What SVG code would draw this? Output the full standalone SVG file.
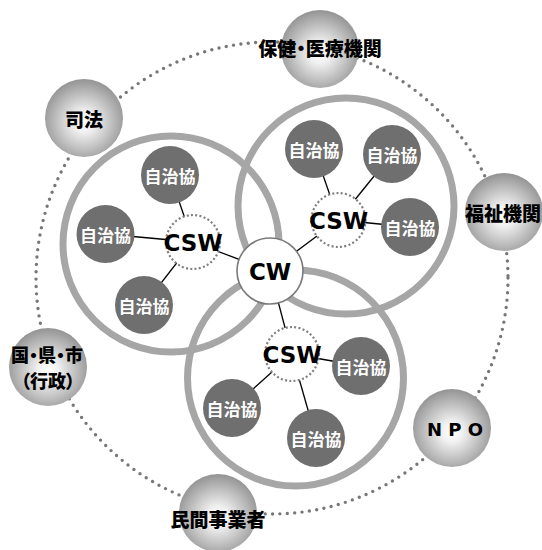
<svg xmlns="http://www.w3.org/2000/svg" width="542" height="550" viewBox="0 0 542 550">
<style>
.ring{fill:none;stroke:#a6a6a6;stroke-width:7}
.orbit{fill:none;stroke:#777;stroke-width:3.4;stroke-linecap:round;stroke-dasharray:0 7.4}
.sat{fill:url(#satg)}
.sat-t{font-family:"Noto Sans CJK JP","Noto Sans CJK SC",sans-serif;font-weight:900;font-size:19px;fill:#000;text-anchor:middle;dominant-baseline:central;font-feature-settings:"palt"}
.jc{fill:#6f6f6f}
.jc-t{font-family:"Noto Sans CJK JP",sans-serif;font-weight:700;font-size:17px;fill:#fff;text-anchor:middle;dominant-baseline:central}
.csw{fill:#fff;stroke:#7f7f7f;stroke-width:2.2;stroke-dasharray:2 2.3}
.csw-t{font-family:"DejaVu Sans",Verdana,sans-serif;font-weight:700;font-size:23px;fill:#000;text-anchor:middle;dominant-baseline:central}
.cw{fill:#fff;stroke:#7a7a7a;stroke-width:1.6}
.link{stroke:#000;stroke-width:1.3}
</style>
<defs>
<radialGradient id="satg" cx="50%" cy="55%" r="55%">
<stop offset="0" stop-color="#ffffff"/>
<stop offset="0.25" stop-color="#f0f0f0"/>
<stop offset="1" stop-color="#939393"/>
</radialGradient>
</defs>
<g id="orbit"><circle class="orbit" cx="272" cy="278" r="236"/></g>
<g id="rings">
<circle class="ring" cx="171" cy="244" r="108"/>
<circle class="ring" cx="346" cy="206" r="108"/>
<circle class="ring" cx="295.5" cy="378" r="108"/>
</g>
<g id="connectors">
<line class="link" x1="193" y1="242" x2="270" y2="271"/>
<line class="link" x1="338.5" y1="220" x2="270" y2="271"/>
<line class="link" x1="292" y1="354" x2="270" y2="271"/>
<line class="link" x1="193" y1="242" x2="170" y2="175"/>
<line class="link" x1="193" y1="242" x2="105.5" y2="234"/>
<line class="link" x1="193" y1="242" x2="144" y2="305"/>
<line class="link" x1="338.5" y1="220" x2="314" y2="149"/>
<line class="link" x1="338.5" y1="220" x2="392" y2="154"/>
<line class="link" x1="338.5" y1="220" x2="410" y2="227"/>
<line class="link" x1="292" y1="354" x2="361" y2="366"/>
<line class="link" x1="292" y1="354" x2="316" y2="438"/>
<line class="link" x1="292" y1="354" x2="232" y2="408"/>
</g>
<g id="sat-hoken"><circle class="sat" cx="320" cy="49" r="39"/><text class="sat-t" x="320" y="47">保健・医療機関</text></g>
<g id="sat-shiho"><circle class="sat" cx="84" cy="118" r="39"/><text class="sat-t" x="84" y="118">司法</text></g>
<g id="sat-fukushi"><circle class="sat" cx="504" cy="212" r="39"/><text class="sat-t" x="503" y="212">福祉機関</text></g>
<g id="sat-npo"><circle class="sat" cx="452" cy="428" r="39"/><text class="sat-t" x="455" y="429" style="font-family:'DejaVu Sans',sans-serif;font-weight:700;font-size:18px">N P O</text></g>
<g id="sat-minkan"><circle class="sat" cx="218" cy="513" r="39"/><text class="sat-t" x="218" y="518">民間事業者</text></g>
<g id="sat-gyosei"><circle class="sat" cx="48" cy="367" r="39"/><text class="sat-t" x="47" y="354" style="font-size:18px">国・県・市</text><text class="sat-t" x="48" y="380" style="font-size:18px">（行政）</text></g>
<g id="jc-l1"><circle class="jc" cx="170" cy="175" r="29"/><text class="jc-t" x="170" y="175">自治協</text></g>
<g id="jc-l2"><circle class="jc" cx="105.5" cy="234" r="29"/><text class="jc-t" x="105.5" y="234">自治協</text></g>
<g id="jc-l3"><circle class="jc" cx="144" cy="305" r="29"/><text class="jc-t" x="144" y="305">自治協</text></g>
<g id="jc-r1"><circle class="jc" cx="314" cy="149" r="29"/><text class="jc-t" x="314" y="149">自治協</text></g>
<g id="jc-r2"><circle class="jc" cx="392" cy="154" r="29"/><text class="jc-t" x="392" y="154">自治協</text></g>
<g id="jc-r3"><circle class="jc" cx="410" cy="227" r="29"/><text class="jc-t" x="410" y="227">自治協</text></g>
<g id="jc-b1"><circle class="jc" cx="361" cy="366" r="29"/><text class="jc-t" x="361" y="366">自治協</text></g>
<g id="jc-b2"><circle class="jc" cx="316" cy="438" r="29"/><text class="jc-t" x="316" y="438">自治協</text></g>
<g id="jc-b3"><circle class="jc" cx="232" cy="408" r="29"/><text class="jc-t" x="232" y="408">自治協</text></g>
<g id="csw-l"><circle class="csw" cx="193" cy="242" r="27"/><text class="csw-t" x="193" y="243">CSW</text></g>
<g id="csw-r"><circle class="csw" cx="338.5" cy="220" r="27"/><text class="csw-t" x="338.5" y="221">CSW</text></g>
<g id="csw-b"><circle class="csw" cx="292" cy="354" r="27"/><text class="csw-t" x="292" y="355">CSW</text></g>
<g id="cw"><circle class="cw" cx="270" cy="271" r="33"/><text class="csw-t" x="270" y="272">CW</text></g>
</svg>
